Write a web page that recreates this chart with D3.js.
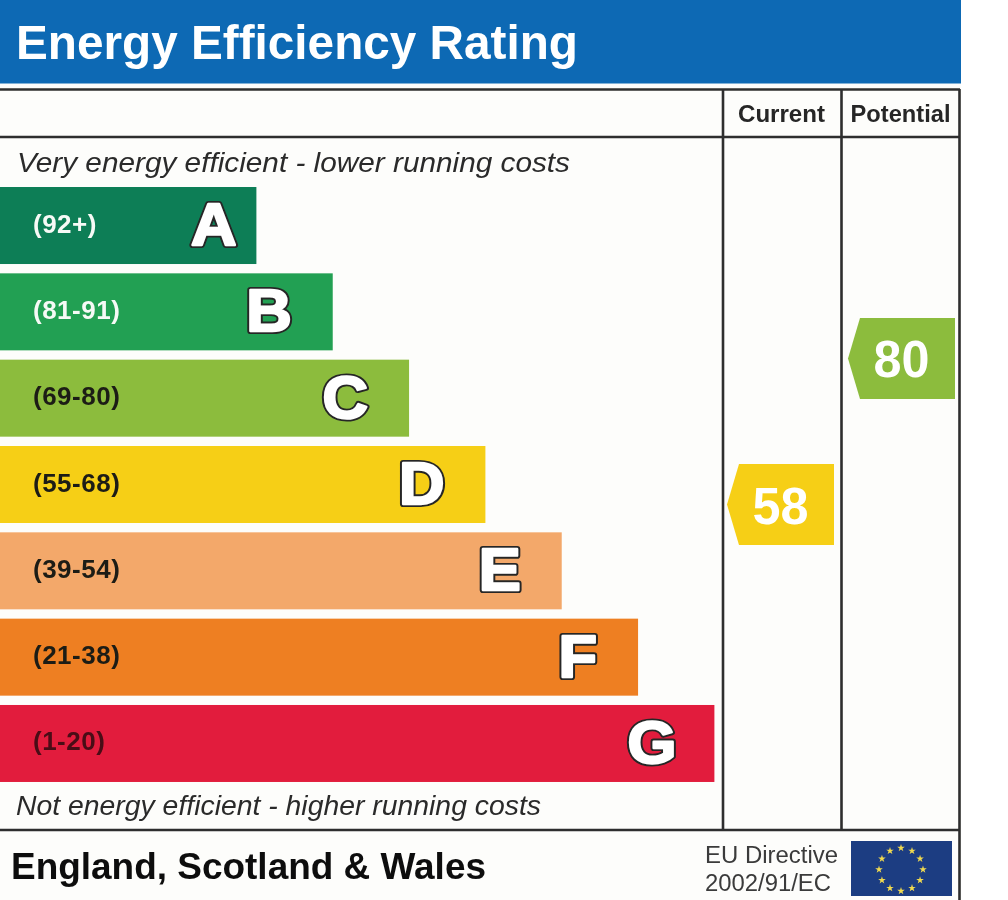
<!DOCTYPE html>
<html><head><meta charset="utf-8">
<script src="https://cdn.jsdelivr.net/npm/d3@7"></script>
<style>html,body{margin:0;padding:0;background:#fff}svg{display:block}text{font-family:"Liberation Sans",Arial,sans-serif}</style>
</head><body><div id="chart"></div>
<script>
const bandLetters = ["A","B","C","D","E","F","G"];
const bandRanges = ["(92+)","(81-91)","(69-80)","(55-68)","(39-54)","(21-38)","(1-20)"];
const bandSteps = [1,2,3,4,5,6,7];
const bandColors = ["#0f7e57","#24a052","#8cbc3e","#f6cf16","#f3a86b","#ee7f22","#e21f3d"];
const rangeColors = ["#f6faf6","#f6faf6","#1e1e14","#1e1e14","#1e1e14","#1e1e14","#4a0a18"];
const ratingLabels = ["Current","Potential"];
const ratingValues = [58,80];
const ratingColors = ["#f6cf16","#8cbc3e"];

const svg = d3.select("#chart").append("svg").attr("width",1008).attr("height",900);
const defs = svg.append("defs");
defs.append("filter").attr("id","soft").attr("filterUnits","userSpaceOnUse").attr("x",-10).attr("y",-10).attr("width",1030).attr("height",920)
  .append("feGaussianBlur").attr("stdDeviation",0.5);
const root = svg.append("g").attr("filter","url(#soft)");

const ink = "#2e2e2e";
root.append("rect").attr("x",-10).attr("y",-10).attr("width",971).attr("height",920).attr("fill","#fdfdfb");
root.append("rect").attr("x",-10).attr("y",-10).attr("width",971).attr("height",93.5).attr("fill","#0a69b4");
root.append("text").attr("x",16).attr("y",58.5).attr("fill","#fff").attr("font-weight",700)
  .attr("font-size",49).attr("textLength",562).attr("lengthAdjust","spacingAndGlyphs").text("Energy Efficiency Rating");

// Frame
const rule = (x1,y1,x2,y2,w=2.6)=>root.append("line").attr("x1",x1).attr("y1",y1).attr("x2",x2).attr("y2",y2).attr("stroke",ink).attr("stroke-width",w);
rule(-10,89.5,960,89.5); rule(-10,137,960,137); rule(-10,830,960,830);
rule(723,89,723,830); rule(841.5,89,841.5,830); rule(959.5,89,959.5,910);

// Column heads
const colX = d3.scaleBand().domain(ratingLabels).range([722,960]);
const headLength = d3.scaleOrdinal().domain(ratingLabels).range([87,100]);
root.selectAll("text.head").data(ratingLabels).join("text").attr("class","head")
  .attr("x",d=>colX(d)+colX.bandwidth()/2).attr("y",122).attr("text-anchor","middle")
  .attr("font-size",24).attr("font-weight",700).attr("fill","#262626")
  .attr("textLength",d=>headLength(d)).attr("lengthAdjust","spacingAndGlyphs").text(d=>d);

// Captions
root.append("text").attr("x",17).attr("y",172).attr("font-size",28.5).attr("font-style","italic").attr("fill","#2c2c2c")
  .attr("textLength",553).attr("lengthAdjust","spacingAndGlyphs").text("Very energy efficient - lower running costs");
root.append("text").attr("x",16).attr("y",815).attr("font-size",28.5).attr("font-style","italic").attr("fill","#2c2c2c")
  .attr("textLength",525).attr("lengthAdjust","spacingAndGlyphs").text("Not energy efficient - higher running costs");

// Bands
const y = d3.scaleBand().domain(bandLetters).range([182.7,786.3]).paddingInner(0.108).paddingOuter(0.05);
const len = d3.scaleLinear().domain([1,7]).range([256.4,714.4]);
const row = root.selectAll("g.band").data(bandLetters).join("g").attr("class","band");
row.append("rect").attr("x",-10).attr("y",d=>y(d)).attr("width",(d,i)=>len(bandSteps[i])+10).attr("height",y.bandwidth())
  .attr("fill",(d,i)=>bandColors[i]);
row.append("text").attr("x",33).attr("y",d=>y(d)+y.bandwidth()/2+7).attr("font-size",26).attr("font-weight",700)
  .attr("letter-spacing",0.5)
  .attr("fill",(d,i)=>rangeColors[i]).text((d,i)=>bandRanges[i]);
const letterX = (d,i)=>len(bandSteps[i])-(i===0?20:(i===6?38:41));
const letterY = d=>y(d)+y.bandwidth()/2+19.5;
const letterStyle = s=>s.attr("transform",(d,i)=>`translate(${letterX(d,i)},${letterY(d)}) scale(1.05,1)`).attr("text-anchor","end")
  .attr("font-size",60).attr("font-weight",700).attr("stroke-linejoin","round").text(d=>d);
row.append("text").call(letterStyle).attr("fill","#262626").attr("stroke","#262626").attr("stroke-width",6.2);
row.append("text").call(letterStyle).attr("fill","#fff").attr("stroke","#fff").attr("stroke-width",2.4);

// Rating markers
const ry = d3.scaleLinear().domain([0,100]).range([889.6,225.7]);
const ratingRight = d3.scaleOrdinal().domain(ratingLabels).range([834,955]);
const markerW = 107, markerH = 81, notch = 12;
const marker = root.selectAll("g.marker").data(ratingLabels).join("g").attr("class","marker")
  .attr("transform",(d,i)=>`translate(${ratingRight(d)},${ry(ratingValues[i])})`);
marker.append("path").attr("d",d3.line()([[0,-markerH/2],[-markerW+notch,-markerH/2],[-markerW,0],[-markerW+notch,markerH/2],[0,markerH/2]])+"Z")
  .attr("fill",(d,i)=>ratingColors[i]);
marker.append("text").attr("x",-markerW/2).attr("y",19).attr("text-anchor","middle")
  .attr("font-size",52).attr("font-weight",700).attr("fill","#fff").attr("textLength",56).attr("lengthAdjust","spacingAndGlyphs").text((d,i)=>ratingValues[i]);

// Footer
root.append("text").attr("x",11).attr("y",879).attr("font-size",37).attr("font-weight",700).attr("fill","#111")
  .attr("textLength",475).attr("lengthAdjust","spacingAndGlyphs").text("England, Scotland & Wales");
root.append("text").attr("x",705).attr("y",863).attr("font-size",23.5).attr("fill","#3a3a3a").attr("textLength",133).attr("lengthAdjust","spacingAndGlyphs").text("EU Directive");
root.append("text").attr("x",705).attr("y",891).attr("font-size",23.5).attr("fill","#3a3a3a").attr("textLength",126).attr("lengthAdjust","spacingAndGlyphs").text("2002/91/EC");

// EU flag
root.append("rect").attr("x",851).attr("y",841).attr("width",101).attr("height",55).attr("fill","#1d3c82");
const stars = d3.range(12);
const ang = d3.scaleLinear().domain([0,12]).range([0,2*Math.PI]);
root.selectAll("path.star").data(stars).join("path").attr("class","star")
  .attr("d",d3.symbol(d3.symbolStar,18)())
  .attr("transform",d=>`translate(${901+22*Math.sin(ang(d))},${869.5-21.5*Math.cos(ang(d))})`)
  .attr("fill","#f0da50");
</script></body></html>
